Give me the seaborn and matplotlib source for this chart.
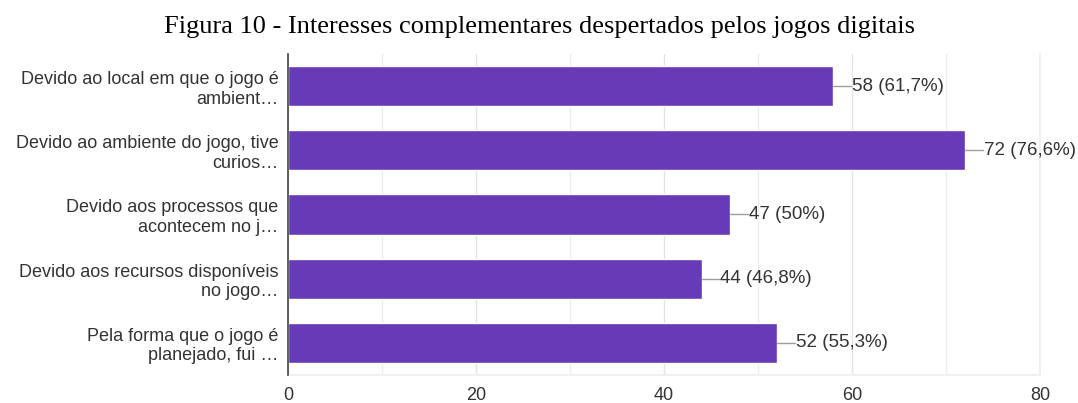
import matplotlib
matplotlib.use("Agg")
import matplotlib.pyplot as plt
import seaborn as sns
import pandas as pd

categories = [
    "Devido ao local em que o jogo é\nambient…",
    "Devido ao ambiente do jogo, tive\ncurios…",
    "Devido aos processos que\nacontecem no j…",
    "Devido aos recursos disponíveis\nno jogo…",
    "Pela forma que o jogo é\nplanejado, fui …",
]
counts = [58, 72, 47, 44, 52]
labels = ["58 (61,7%)", "72 (76,6%)", "47 (50%)", "44 (46,8%)", "52 (55,3%)"]
xticks = [0, 20, 40, 60, 80]

sns.set_theme(style="white")
plt.rcParams["font.family"] = ["Liberation Sans", "DejaVu Sans"]

df = pd.DataFrame({"categoria": categories, "respostas": counts})

fig = plt.figure(figsize=(10.78, 4.03), dpi=100)
ax = fig.add_axes([0.2672, 0.0695, 0.6975, 0.7965])

# minor and major vertical gridlines
for v in range(0, 81, 10):
    ax.axvline(v, color="#ececec" if v % 20 else "#e4e4e4", lw=1, zorder=0)

sns.barplot(data=df, y="categoria", x="respostas", orient="h",
            color="#673AB7", saturation=1, width=0.625, ax=ax, zorder=2)

for i, (v, t) in enumerate(zip(counts, labels)):
    ax.plot([v, v + 1.9], [i, i], color="#9e9e9e", lw=1, zorder=3)
    ax.text(v + 2.0, i, t, va="center", ha="left", fontsize=13.5, color="#333333")

ax.set_xlim(0, 80)
ax.set_ylim(4.5, -0.5)
ax.set_xticks(xticks)
ax.set_xticklabels([str(x) for x in xticks])
ax.set_xlabel("")
ax.set_ylabel("")
ax.tick_params(axis="both", length=0, labelsize=13, colors="#333333")
ax.tick_params(axis="x", pad=9)
ax.tick_params(axis="y", pad=7)
for lbl in ax.get_yticklabels():
    lbl.set_horizontalalignment("right")
    lbl.set_multialignment("right")
    lbl.set_linespacing(1.2)

ax.spines["top"].set_visible(False)
ax.spines["right"].set_color("#eeeeee")
ax.spines["bottom"].set_color("#eeeeee")
ax.spines["left"].set_color("#444444")
ax.spines["left"].set_linewidth(1.2)
ax.spines["left"].set_zorder(4)

fig.text(0.5, 0.932, "Figura 10 - Interesses complementares despertados pelos jogos digitais",
         ha="center", va="center", fontsize=19, family=["Liberation Serif", "DejaVu Serif"],
         color="black")

fig.savefig("out.png", dpi=100)
